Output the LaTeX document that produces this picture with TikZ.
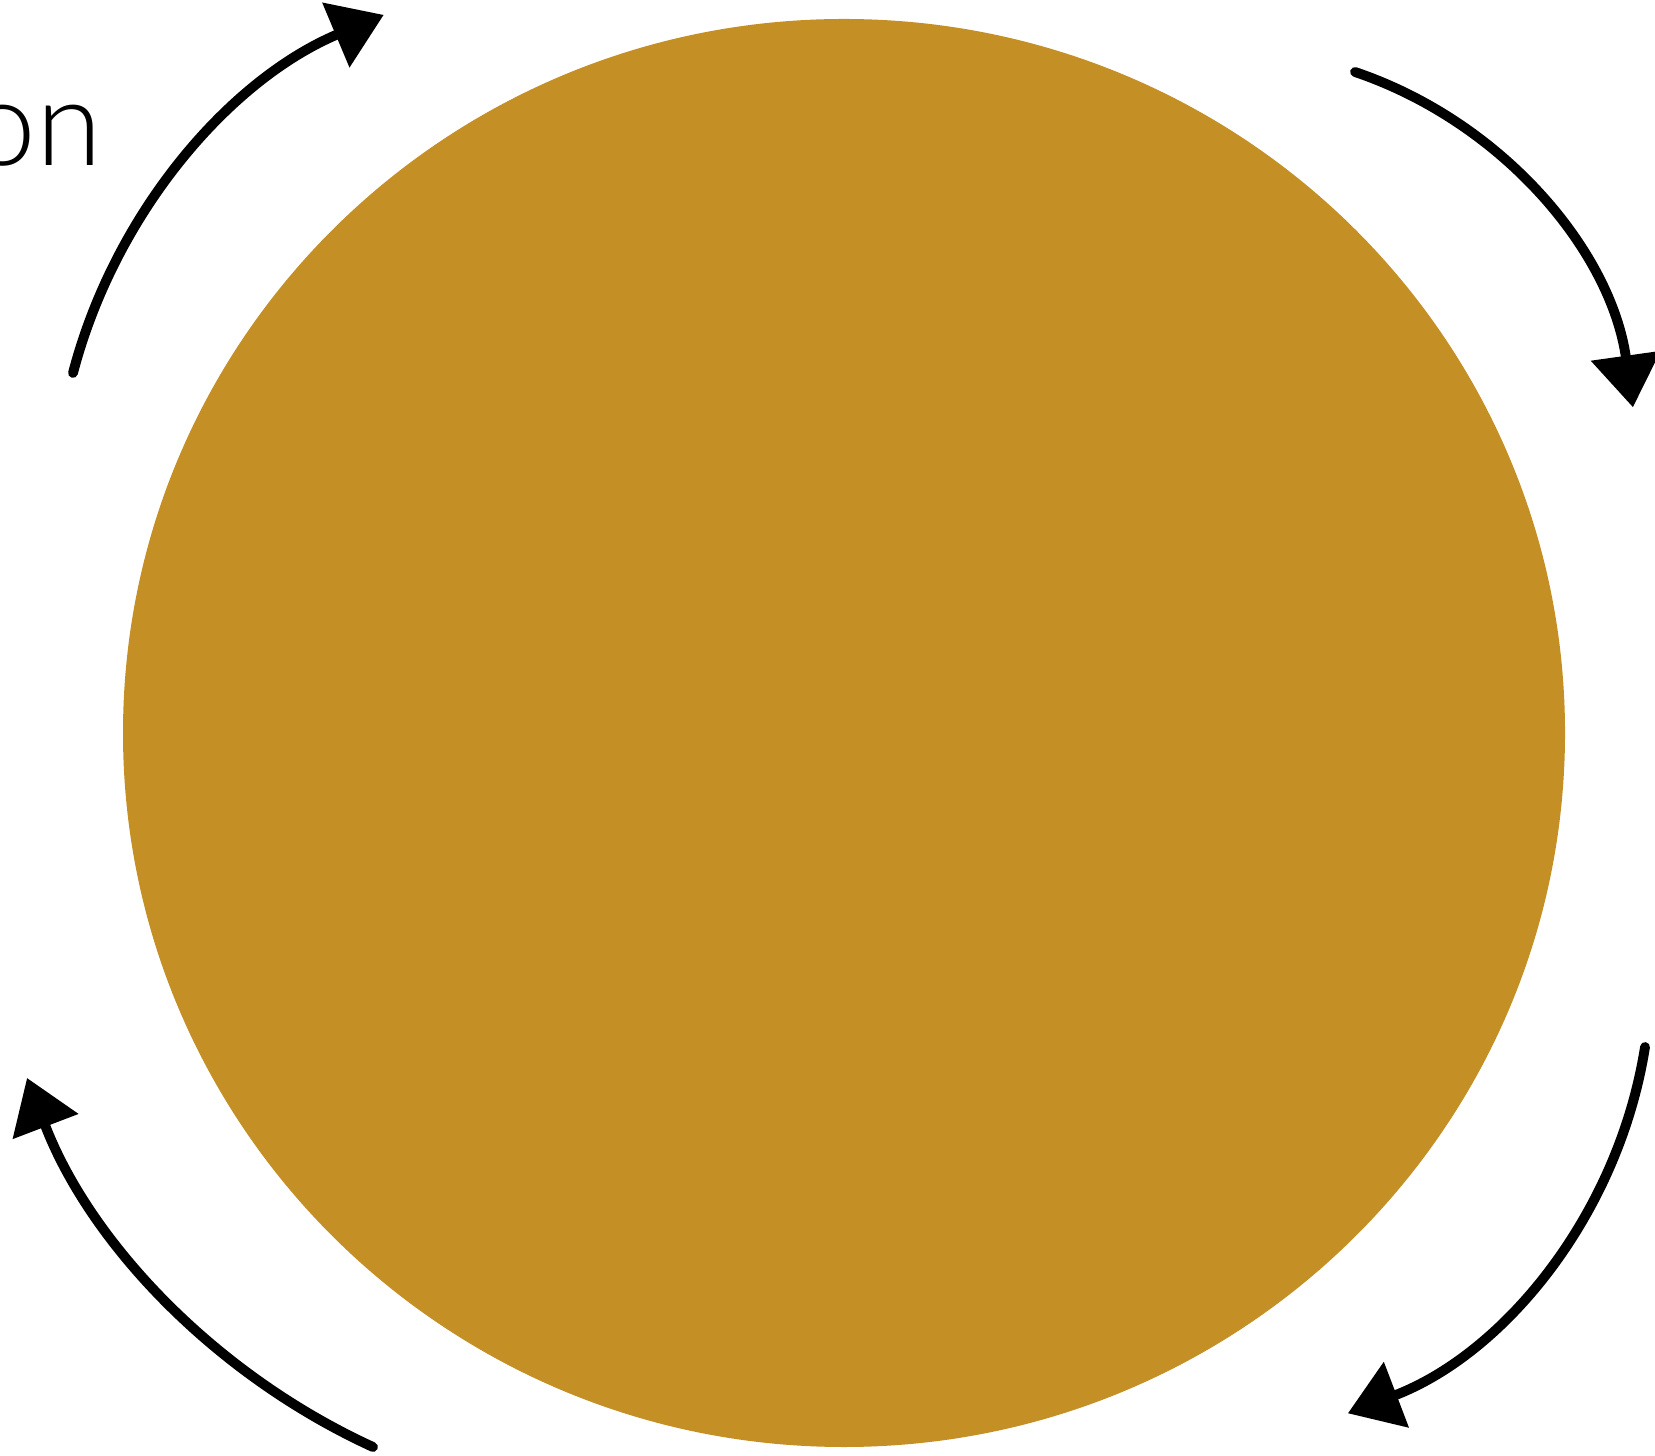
\documentclass[tikz,border=0pt]{standalone}
\usepackage{fontspec}
\newfontfamily\lightfont{Lato Light}
\usepackage{xcolor}
\usepackage{tikz}
\usetikzlibrary{shapes.geometric, arrows.meta, positioning}

\definecolor{ochre}{HTML}{C48F25}

\begin{document}
\begin{tikzpicture}[
    every node/.style={color=black},
    disc/.style={ellipse, fill=ochre, draw=none, minimum width=14.42cm,
                 minimum height=14.28cm, inner sep=0pt},
    word/.style={font=\lightfont\fontsize{34}{40}\selectfont, inner sep=0pt},
    cycle/.style={-{Triangle[length=5.2mm, width=6.8mm]}, color=black,
                  line width=2.8pt, line cap=round}
]
\useasboundingbox (0,0) rectangle (16.55,14.55);

% --- Disc ---
\node[disc] (sun) at (8.44, 7.22) {};

% --- Text cut at the left edge ---
\node[word, anchor=base east] (lbl) at (1.03, 12.89) {on};

% --- Arrow tails ---
\coordinate (tlA) at (0.73, 10.82);
\coordinate (trA) at (13.55, 13.83);
\coordinate (brA) at (16.45, 4.08);
\coordinate (blA) at (3.73, 0.08);

% --- Arrows round the disc (clockwise arcs) ---
\draw[cycle] (tlA) arc[start angle=165.3, end angle=112.8, radius=5.36];
\draw[cycle] (trA) arc[start angle=71.3, end angle=8.0, radius=4.15];
\draw[cycle] (brA) arc[start angle=-9.0, end angle=-69.1, radius=4.71];
\draw[cycle] (blA) arc[start angle=245.4, end angle=200.9, radius=6.68];

\end{tikzpicture}
\end{document}
